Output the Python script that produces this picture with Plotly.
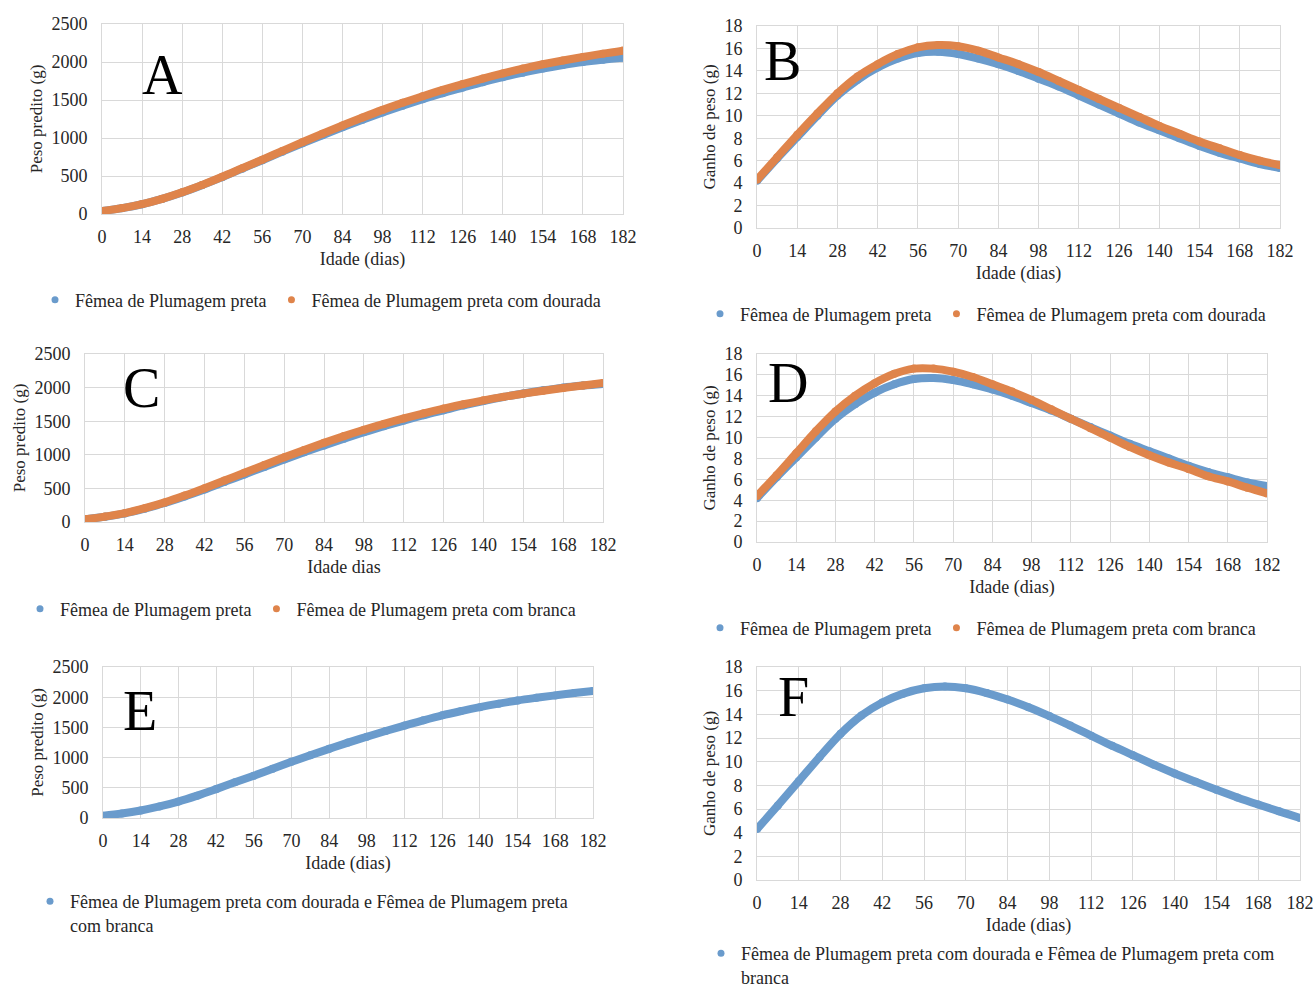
import plotly.graph_objects as go

# ---------------- data ----------------
dias = [0, 7, 14, 21, 28, 35, 42, 49, 56, 63, 70, 77, 84, 91, 98, 105,
        112, 119, 126, 133, 140, 147, 154, 161, 168, 175, 182]

x_ticks = [0, 14, 28, 42, 56, 70, 84, 98, 112, 126, 140, 154, 168, 182]
peso_ticks = [0, 500, 1000, 1500, 2000, 2500]
ganho_ticks = [0, 2, 4, 6, 8, 10, 12, 14, 16, 18]

# Panel A / C - predicted weight (g)
peso_preta = [40, 77, 128, 198, 282, 380, 485, 597, 708, 820, 930, 1037, 1140,
              1240, 1335, 1425, 1510, 1590, 1663, 1735, 1800, 1860, 1913, 1960,
              2000, 2030, 2055]
peso_dourada = [40, 78, 130, 200, 285, 383, 490, 603, 715, 830, 945, 1057, 1165,
                1270, 1370, 1463, 1550, 1633, 1710, 1782, 1850, 1913, 1970, 2020,
                2065, 2110, 2150]
peso_branca = [40, 80, 132, 205, 292, 393, 503, 618, 733, 848, 962, 1072, 1178,
               1278, 1372, 1460, 1542, 1618, 1688, 1752, 1810, 1862, 1910, 1953,
               1993, 2032, 2068]
# Panel E
peso_dour_branca = [38, 75, 125, 192, 272, 370, 478, 590, 700, 815, 930, 1040, 1145,
                    1248, 1345, 1440, 1530, 1618, 1700, 1770, 1835, 1893, 1946, 1990,
                    2030, 2068, 2102]

# Panel B / D - weight gain (g)
ganho_preta = [4.2, 6.2, 8.1, 10.0, 11.8, 13.2, 14.3, 15.1, 15.6, 15.7, 15.5, 15.1,
               14.6, 14.0, 13.3, 12.6, 11.8, 11.0, 10.2, 9.4, 8.7, 8.0, 7.3, 6.7,
               6.2, 5.7, 5.35]
ganho_dourada = [4.3, 6.3, 8.3, 10.2, 12.0, 13.5, 14.6, 15.5, 16.1, 16.3, 16.2, 15.8,
                 15.2, 14.6, 13.9, 13.1, 12.3, 11.5, 10.7, 9.9, 9.1, 8.4, 7.7, 7.1,
                 6.5, 6.0, 5.6]
ganho_branca = [4.4, 6.4, 8.5, 10.6, 12.5, 14.0, 15.2, 16.1, 16.6, 16.6, 16.3, 15.8,
                15.1, 14.4, 13.6, 12.7, 11.8, 10.9, 10.0, 9.1, 8.3, 7.6, 7.0, 6.3,
                5.8, 5.2, 4.65]
# Panel F
ganho_dour_branca = [4.3, 6.3, 8.35, 10.4, 12.35, 13.9, 15.0, 15.75, 16.2, 16.35, 16.2,
                     15.8, 15.25, 14.6, 13.85, 13.05, 12.2, 11.35, 10.55, 9.75, 9.0,
                     8.3, 7.62, 6.98, 6.38, 5.8, 5.25]

nome_preta = "Fêmea de Plumagem preta"
nome_dourada = "Fêmea de Plumagem preta com dourada"
nome_branca = "Fêmea de Plumagem preta com branca"
nome_E = "Fêmea de Plumagem preta com dourada e Fêmea de Plumagem preta<br>com branca"
nome_F = "Fêmea de Plumagem preta com dourada e Fêmea de Plumagem preta com<br>branca"

# ---------------- styling ----------------
W, H = 1316, 992
BLUE = "#6a9bcc"
ORANGE = "#df844b"
GRID = "#d9d9d9"
TXT = "#262626"
FONT = "Liberation Serif"

# panel plot areas in pixels: (left, right, top, bottom)
panels = {
    "A": (102, 623, 24, 214),
    "B": (757, 1280, 26, 228),
    "C": (85, 603, 354, 522),
    "D": (757, 1267, 354, 542),
    "E": (103, 593, 667, 818),
    "F": (757, 1300, 667, 880),
}

fig = go.Figure()

def px_x(p):
    return p / W

def px_y(p):
    return 1 - p / H

axis_ids = {"A": "", "B": "2", "C": "3", "D": "4", "E": "5", "F": "6"}

specs = [
    # panel, series list, y-title, x-title, ytick vals, yrange, legend pos (text-left px, centre y px)
    ("A", [(peso_preta, BLUE, nome_preta), (peso_dourada, ORANGE, nome_dourada)],
     "Peso predito (g)", "Idade (dias)", peso_ticks, [0, 2500], (75, 300)),
    ("B", [(ganho_preta, BLUE, nome_preta), (ganho_dourada, ORANGE, nome_dourada)],
     "Ganho de peso (g)", "Idade (dias)", ganho_ticks, [0, 18], (740, 314)),
    ("C", [(peso_preta, BLUE, nome_preta), (peso_branca, ORANGE, nome_branca)],
     "Peso predito (g)", "Idade dias", peso_ticks, [0, 2500], (60, 609)),
    ("D", [(ganho_preta, BLUE, nome_preta), (ganho_branca, ORANGE, nome_branca)],
     "Ganho de peso (g)", "Idade (dias)", ganho_ticks, [0, 18], (740, 628)),
    ("E", [(peso_dour_branca, BLUE, nome_E)],
     "Peso predito (g)", "Idade (dias)", peso_ticks, [0, 2500], (70, 913)),
    ("F", [(ganho_dour_branca, BLUE, nome_F)],
     "Ganho de peso (g)", "Idade (dias)", ganho_ticks, [0, 18], (741, 965)),
]

layout_updates = {}
annotations = []
for i, (pn, series, ytitle, xtitle, yticks, yrange, legpos) in enumerate(specs):
    sid = axis_ids[pn]
    xa = "x" + sid
    ya = "y" + sid
    leg = "legend" if i == 0 else f"legend{i + 1}"
    for vals, col, nome in series:
        fig.add_trace(go.Scatter(
            x=dias, y=vals, xaxis=xa, yaxis=ya, mode="lines+markers",
            line=dict(color=col, width=8, shape="spline", smoothing=1.0),
            marker=dict(color=col, size=8),
            showlegend=False, legendgroup=pn + nome, hoverinfo="x+y",
        ))
        fig.add_trace(go.Scatter(
            x=[None], y=[None], xaxis=xa, yaxis=ya, mode="markers",
            marker=dict(color=col, size=7), name=nome, legend=leg,
            legendgroup=pn + nome, showlegend=True,
        ))
    l, r, t, b = panels[pn]
    layout_updates["xaxis" + sid] = dict(
        domain=[px_x(l), px_x(r)], anchor=ya, range=[0, 182],
        tickvals=x_ticks, ticktext=[str(v) for v in x_ticks],
        showgrid=True, gridcolor=GRID, gridwidth=1, zeroline=False,
        showline=True, linecolor=GRID, linewidth=1, mirror=True,
        ticks="", ticklabelstandoff=6,
        tickfont=dict(family=FONT, size=18, color=TXT),
        title=dict(text=xtitle, font=dict(family=FONT, size=18, color=TXT), standoff=6),
        automargin=False, fixedrange=True,
    )
    layout_updates["yaxis" + sid] = dict(
        domain=[px_y(b), px_y(t)], anchor=xa, range=yrange,
        tickvals=yticks, ticktext=[str(v) for v in yticks],
        showgrid=True, gridcolor=GRID, gridwidth=1, zeroline=False,
        showline=True, linecolor=GRID, linewidth=1, mirror=True,
        ticks="", ticklabelstandoff=10,
        tickfont=dict(family=FONT, size=18, color=TXT),
        title=dict(text=ytitle, font=dict(family=FONT, size=17, color=TXT), standoff=4),
        automargin=False, fixedrange=True,
    )
    tx, ty = legpos
    layout_updates[leg] = dict(
        x=px_x(tx - 40), y=px_y(ty), xanchor="left", yanchor="middle",
        orientation="h", font=dict(family=FONT, size=18, color=TXT),
        bgcolor="rgba(0,0,0,0)", borderwidth=0, itemwidth=30,
        valign="top", tracegroupgap=0, itemclick=False, itemdoubleclick=False,
    )

letters = {"A": (162, 75), "B": (782, 61), "C": (141, 388),
           "D": (788, 383), "E": (140, 711), "F": (793, 697)}
for k, (lx, ly) in letters.items():
    annotations.append(dict(
        text=k, x=px_x(lx), y=px_y(ly), xref="paper", yref="paper",
        xanchor="center", yanchor="middle", showarrow=False,
        font=dict(family=FONT, size=56, color="#000000"),
    ))

fig.update_layout(
    width=W, height=H, margin=dict(l=0, r=0, t=0, b=0, autoexpand=False),
    paper_bgcolor="white", plot_bgcolor="white",
    font=dict(family=FONT, size=18, color=TXT),
    annotations=annotations, hovermode="closest",
    **layout_updates,
)

fig.write_html("out.html", post_script="document.body.style.margin='0';")
